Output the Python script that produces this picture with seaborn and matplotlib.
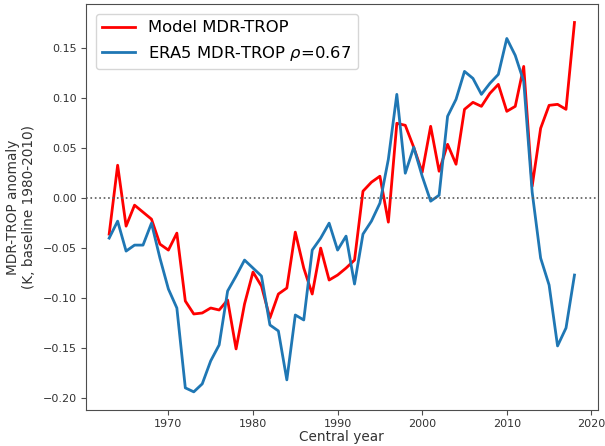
import numpy as np
import pandas as pd
import matplotlib
matplotlib.use("Agg")
import matplotlib.pyplot as plt
import seaborn as sns

years = list(range(1963, 2019))
model_vals = [-0.036, 0.033, -0.028, -0.007, -0.014, -0.021, -0.046, -0.052, -0.035, -0.103,
              -0.116, -0.115, -0.110, -0.112, -0.102, -0.151, -0.106, -0.074, -0.088, -0.120,
              -0.096, -0.090, -0.034, -0.070, -0.096, -0.050, -0.082, -0.077, -0.070, -0.062,
              0.007, 0.016, 0.022, -0.024, 0.075, 0.073, 0.051, 0.026, 0.072, 0.027,
              0.054, 0.034, 0.089, 0.096, 0.092, 0.105, 0.114, 0.087, 0.092, 0.132,
              0.012, 0.070, 0.093, 0.094, 0.089, 0.176]
era5_vals = [-0.040, -0.023, -0.053, -0.047, -0.047, -0.025, -0.060, -0.091, -0.110, -0.190,
             -0.194, -0.186, -0.163, -0.147, -0.093, -0.078, -0.062, -0.070, -0.078, -0.127,
             -0.133, -0.182, -0.117, -0.122, -0.052, -0.040, -0.025, -0.052, -0.038, -0.086,
             -0.036, -0.023, -0.005, 0.039, 0.104, 0.025, 0.051, 0.022, -0.003, 0.003,
             0.082, 0.099, 0.127, 0.120, 0.104, 0.115, 0.124, 0.160, 0.143, 0.117,
             0.006, -0.060, -0.087, -0.148, -0.130, -0.077]
series_names = ["Model MDR-TROP", r"ERA5 MDR-TROP $\rho$=0.67"]
series_colors = ["#ff0000", "#1f77b4"]

df = pd.DataFrame({
    "year": years * 2,
    "value": model_vals + era5_vals,
    "series": [series_names[0]] * len(years) + [series_names[1]] * len(years),
})

fig = plt.figure(figsize=(6.05, 4.46), dpi=100)
ax = fig.add_axes([0.142, 0.08, 0.846, 0.911])
sns.lineplot(data=df, x="year", y="value", hue="series", hue_order=series_names,
             palette=series_colors, linewidth=2, ax=ax)
ax.axhline(0, color="0.35", linestyle=":", linewidth=1.2)

ax.set_xticks([1970, 1980, 1990, 2000, 2010, 2020])
ax.set_yticks([-0.20, -0.15, -0.10, -0.05, 0.00, 0.05, 0.10, 0.15])
ax.set_xlim(1960.25, 2020.75)
ax.set_ylim(-0.2125, 0.1945)
ax.tick_params(labelsize=8, colors="0.3", labelcolor="0.2", length=3.5, pad=3)
ax.set_xlabel("Central year", fontsize=9.8, color="0.2", labelpad=0.5)
ax.set_ylabel("MDR-TROP anomaly\n(K, baseline 1980-2010)", fontsize=9.8, color="0.2", labelpad=5)
for s in ax.spines.values():
    s.set_color("0.3")
leg = ax.legend(loc="upper left", fontsize=11.8, borderaxespad=0.6)
leg.set_title(None)

fig.savefig("out.png", dpi=100)
